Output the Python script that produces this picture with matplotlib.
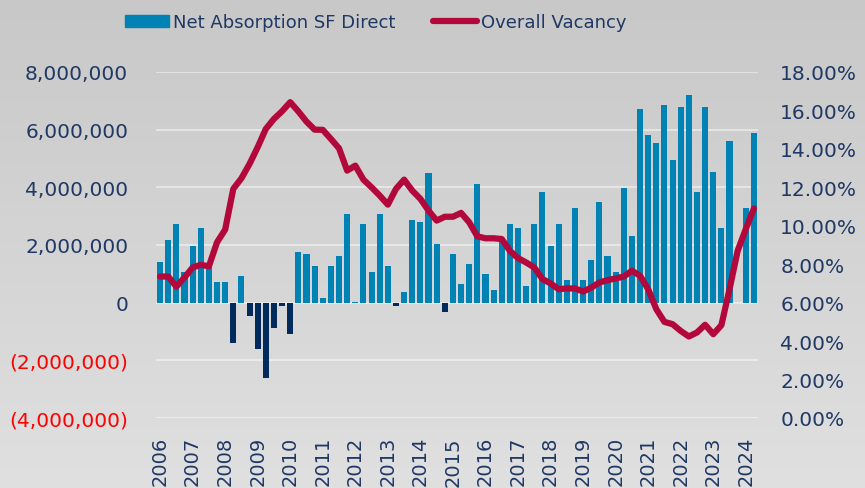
import numpy as np
import matplotlib
matplotlib.use("Agg")
import matplotlib.pyplot as plt
from matplotlib.patches import Patch
from matplotlib.lines import Line2D
from matplotlib.ticker import FuncFormatter

plt.rcParams['font.family'] = ['DejaVu Sans']

# quarterly data, 2006 Q1 .. 2024 Q2
years = [str(y) for y in range(2006, 2025)]
absorption = [1.41, 2.17, 2.72, 1.07, 1.97, 2.59, 1.25, 0.73,
              0.72, -1.41, 0.93, -0.46, -1.62, -2.60, -0.88, -0.10,
              -1.07, 1.76, 1.68, 1.26, 0.16, 1.26, 1.61, 3.07,
              0.03, 2.72, 1.07, 3.07, 1.26, -0.10, 0.37, 2.86,
              2.79, 4.51, 2.03, -0.32, 1.68, 0.64, 1.33, 4.10,
              0.99, 0.45, 2.20, 2.72, 2.59, 0.58, 2.72, 3.83,
              1.96, 2.72, 0.79, 3.27, 0.79, 1.47, 3.48, 1.61,
              1.07, 3.97, 2.31, 6.72, 5.82, 5.54, 6.86, 4.94,
              6.79, 7.21, 3.83, 6.79, 4.52, 2.59, 5.62, 0.0,
              3.27, 5.89]  # millions of SF
vacancy = [7.36, 7.36, 6.83, 7.31, 7.83, 7.97, 7.89, 9.14,
           9.80, 11.92, 12.47, 13.22, 14.09, 15.04, 15.56, 15.96,
           16.43, 15.95, 15.42, 15.00, 14.99, 14.52, 14.03, 12.87,
           13.13, 12.40, 12.00, 11.57, 11.10, 11.92, 12.40, 11.83,
           11.40, 10.79, 10.27, 10.47, 10.47, 10.67, 10.18, 9.45,
           9.35, 9.35, 9.31, 8.70, 8.32, 8.09, 7.83, 7.23,
           7.00, 6.70, 6.74, 6.74, 6.58, 6.78, 7.05, 7.17,
           7.26, 7.36, 7.66, 7.40, 6.70, 5.66, 5.00, 4.88,
           4.53, 4.24, 4.45, 4.85, 4.36, 4.83, 6.70, 8.70,
           9.83, 10.90]  # percent

navy = '#1F3864'
blue = '#0082B4'
dark = '#002B5C'
red = '#B3083B'

absorption = np.array(absorption) * 1e6
vacancy = np.array(vacancy) / 100
x = np.arange(len(absorption))

fig = plt.figure(figsize=(8.65, 4.89), dpi=100)

# gradient background
bg = fig.add_axes([0, 0, 1, 1], zorder=-10)
grad = np.linspace(200, 224, 256).reshape(-1, 1) / 255
bg.imshow(np.dstack([grad, grad, grad]), aspect='auto', extent=[0, 1, 0, 1])
bg.axis('off')

ax = fig.add_axes([156/865, 1-419/489, 602/865, 346/489])
ax.patch.set_alpha(0)
colors = [blue if v >= 0 else dark for v in absorption]
ax.bar(x, absorption, width=0.75, color=colors, zorder=2)
ax.set_xlim(-0.5, len(x) - 0.5)
ax.set_ylim(-4e6, 8e6)
ax.set_yticks(np.arange(-4e6, 8.1e6, 2e6))
ax.yaxis.set_major_formatter(FuncFormatter(
    lambda v, p: f"{v:,.0f}" if v >= 0 else f"({-v:,.0f})"))
ax.grid(axis='y', color='white', alpha=0.45, linewidth=1.5, zorder=0)
ax.set_xticks(x[::4])
ax.set_xticklabels(years, rotation=90)
ax.tick_params(axis='x', length=0, pad=13, labelsize=14, labelcolor=navy)
ax.tick_params(axis='y', length=0, pad=20, labelsize=14.5, labelcolor=navy)
for lbl, v in zip(ax.get_yticklabels(), ax.get_yticks()):
    if v < 0:
        lbl.set_color('#FF0000')
for s in ax.spines.values():
    s.set_visible(False)

ax2 = ax.twinx()
ax2.plot(x, vacancy, color=red, linewidth=4.5, solid_capstyle='round', zorder=3)
ax2.set_ylim(0, 0.18)
ax2.set_yticks(np.arange(0, 0.181, 0.02))
ax2.yaxis.set_major_formatter(FuncFormatter(lambda v, p: f"{v*100:.2f}%"))
ax2.tick_params(axis='y', length=0, pad=16, labelsize=14.5, labelcolor=navy)
for s in ax2.spines.values():
    s.set_visible(False)

handles = [Patch(color=blue), Line2D([0], [0], color=red, linewidth=4.5, solid_capstyle='round')]
fig.legend(handles, ['Net Absorption SF Direct', 'Overall Vacancy'],
           loc='center', bbox_to_anchor=(376/865, 1-23/489), ncol=2, frameon=False,
           fontsize=13, labelcolor=navy, handlelength=2.4, handleheight=0.65,
           handletextpad=0.25, columnspacing=2.1)

fig.savefig('out.png', dpi=100)
